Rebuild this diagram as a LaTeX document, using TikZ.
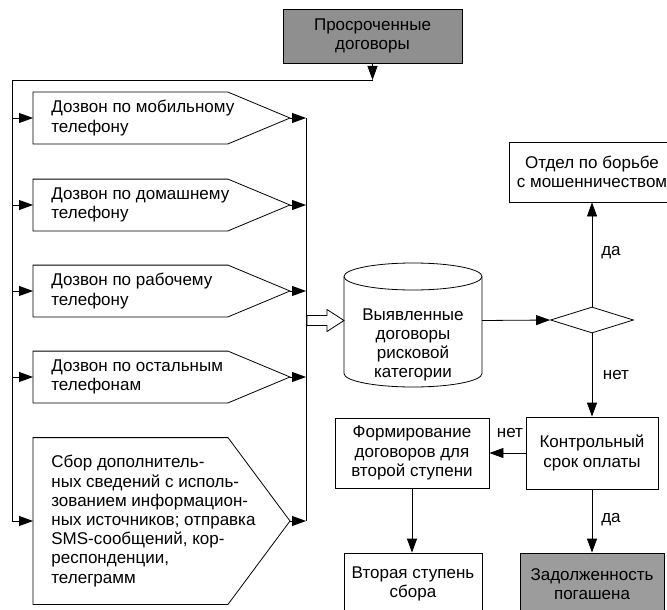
\documentclass[tikz,border=0pt]{standalone}
\usepackage{fontspec}
\setmainfont{Liberation Sans}
\usetikzlibrary{shapes.geometric,arrows.meta}
\definecolor{overduegray}{HTML}{8F8F8F}
\definecolor{paidgray}{HTML}{9C9C9C}
\tikzset{
  every node/.style={font=\fontsize{17}{19.2}\selectfont},
  box/.style={draw, align=center, inner sep=0pt},
  pent/.style={anchor=west, align=left, inner xsep=18pt, inner ysep=0pt},
  arr/.style={-{Triangle[length=14pt,width=10pt]}},
  lbl/.style={inner sep=0pt},
}

\begin{document}
\begin{tikzpicture}[x=1pt,y=1pt,line width=0.8pt]
\useasboundingbox (0,0) rectangle (667,-610);

\coordinate (busL) at (12,-80);
\coordinate (busR) at (306,0);
\coordinate (bodyR) at (228,0);
\coordinate (tipX) at (290,0);

\node[box,fill=overduegray,minimum width=179,minimum height=54] (overdue) at (372.5,-36) {Просроченные\\договоры};
\coordinate (busTop) at (372.5,-80);
\draw[arr] (overdue) -- (busTop);

% calls
\foreach \n/\y/\t in {p1/118/{Дозвон по мобильному\\телефону},
                      p2/205/{Дозвон по домашнему\\телефону},
                      p3/291/{Дозвон по рабочему\\телефону},
                      p4/377/{Дозвон по остальным\\телефонам}}{
  \node[pent,minimum height=51] (\n) at (33,-\y) {\t};
}
\node[pent,minimum height=166] (p5) at (33,-521) {Сбор дополнитель-\\ных сведений с исполь-\\зованием информацион-\\ных источников; отправка\\SMS-сообщений, кор-\\респонденции,\\телеграмм};

\foreach \n in {p1,p2,p3,p4,p5}{
  \draw (\n.north west) -- (\n.north west -| bodyR) -- (\n.west -| tipX)
        -- (\n.south west -| bodyR) -- (\n.south west) -- cycle;
  \draw[arr] (\n.west -| busL) -- (\n.west);
  \draw[arr] (\n.west -| tipX) -- (\n.west -| busR);
}
\draw (busTop) -- (busL) -- (busL |- p5.west);
\draw (p1.west -| busR) -- (p5.west -| busR);

% risk store
\node[align=center,inner sep=0pt] (risk) at (413,-345) {Выявленные\\договоры\\рисковой\\категории};
\draw (413,-276.5) ellipse [x radius=69, y radius=13.5];
\draw (344,-276.5) -- (344,-373.5) arc [start angle=180, end angle=360, x radius=69, y radius=13.5] -- (482,-276.5);
\coordinate (riskW) at (344,-320.5);
\coordinate (riskE) at (482,-320.5);
\draw[fill=white] (riskW) -- ++(-17,11) -- ++(0,-6) -- ++(-20,0) -- ++(0,-10)
      -- ++(20,0) -- ++(0,-6) -- cycle;

\node[diamond,draw,minimum width=83,minimum height=26,inner sep=0pt] (dec) at (592,-320) {};
\draw[arr] (riskE) -- (dec.west);

\node[box,minimum width=166,minimum height=60] (fraud) at (592,-172) {Отдел по борьбе\\с мошенничеством};
\node[box,minimum width=132,minimum height=72] (check) at (592,-453) {Контрольный\\срок оплаты};
\node[box,minimum width=154,minimum height=70] (form) at (412,-453) {Формирование\\договоров для\\второй ступени};
\node[box,minimum width=138,minimum height=62] (second) at (413,-584) {Вторая ступень\\сбора};
\node[box,fill=paidgray,minimum width=144,minimum height=62] (paid) at (592,-584) {Задолженность\\погашена};

\draw[arr] (dec.north) -- (fraud.south);
\draw[arr] (dec.south) -- (check.north);
\draw[arr] (check.west) -- (form.east);
\draw[arr] (form.south) -- (form.south |- second.north);
\draw[arr] (check.south) -- (paid.north);

\node[lbl] (yes1) at (611,-253) {да};
\node[lbl] (no1) at (616,-375) {нет};
\node[lbl] (no2) at (510,-433) {нет};
\node[lbl] (yes2) at (611,-520) {да};
\end{tikzpicture}
\end{document}
